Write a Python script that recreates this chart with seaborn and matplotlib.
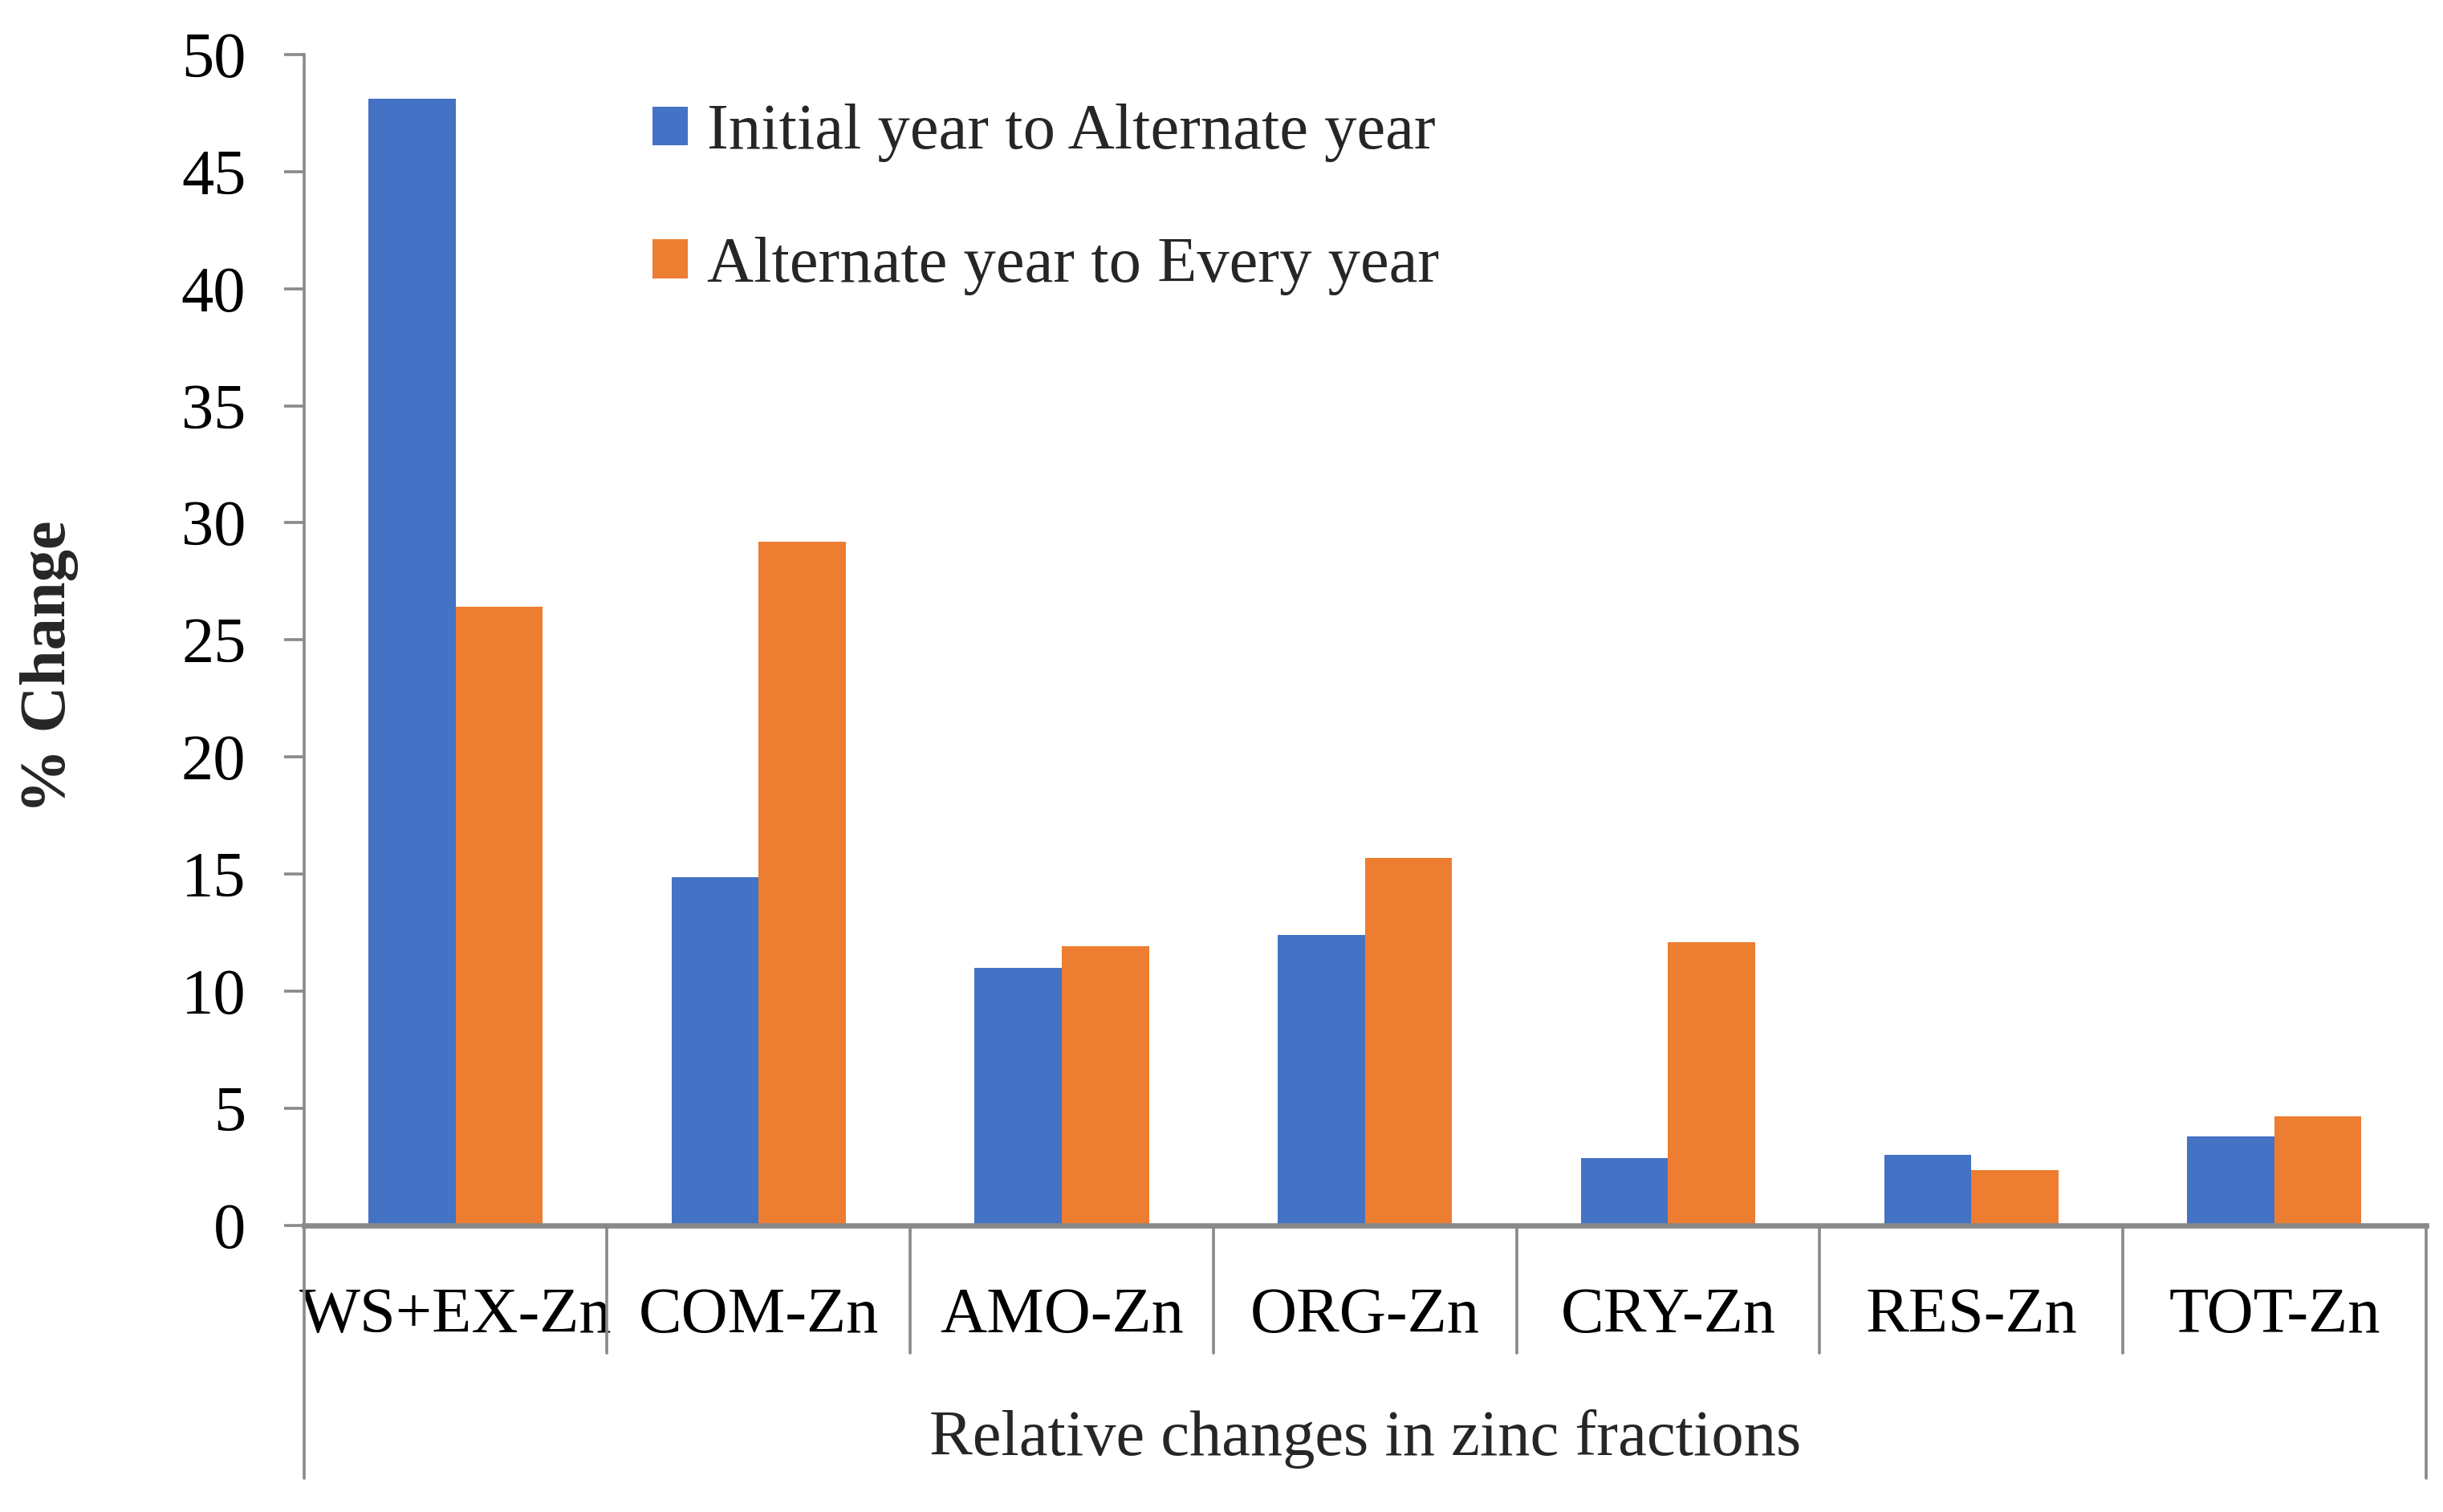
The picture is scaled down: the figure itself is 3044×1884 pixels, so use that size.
import pandas as pd
import seaborn as sns
import matplotlib.pyplot as plt

# Data
fractions = ['WS+EX-Zn', 'COM-Zn', 'AMO-Zn', 'ORG-Zn', 'CRY-Zn', 'RES-Zn', 'TOT-Zn']
initial_to_alternate = [48.1, 14.85, 11.0, 12.4, 2.85, 3.0, 3.8]
alternate_to_every = [26.4, 29.2, 11.9, 15.7, 12.1, 2.35, 4.65]
series_names = ['Initial year to Alternate year', 'Alternate year to Every year']

df = pd.DataFrame({
    'Fraction': fractions * 2,
    'Change': initial_to_alternate + alternate_to_every,
    'Period': [series_names[0]] * len(fractions) + [series_names[1]] * len(fractions),
})

sns.set_theme(style='white')
plt.rcParams['font.family'] = ['Liberation Serif', 'DejaVu Serif']

grey = '#898989'
fs = 29

fig = plt.figure(figsize=(15.22, 9.42), dpi=200)
ax = fig.add_axes([0.1244, 0.1897, 0.993 - 0.1244, 0.9639 - 0.1897])

sns.barplot(data=df, x='Fraction', y='Change', hue='Period',
            palette=['#4472C4', '#ED7D31'], width=0.575, gap=0,
            saturation=1, linewidth=0, ax=ax, errorbar=None)

ax.set_xlim(-0.5, len(fractions) - 0.5)
ax.set_ylim(0, 50)
ax.set_yticks(range(0, 51, 5))

# spines
for s in ['top', 'right']:
    ax.spines[s].set_visible(False)
ax.spines['left'].set_color(grey)
ax.spines['left'].set_linewidth(1.3)
ax.spines['bottom'].set_color(grey)
ax.spines['bottom'].set_linewidth(2.4)

ax.tick_params(axis='y', left=True, length=9, width=1.3, color=grey,
               pad=17, labelsize=fs, labelcolor='black')
ax.tick_params(axis='x', bottom=False, length=0, pad=28,
               labelsize=fs, labelcolor='black')

# multi-level category separators
tr = ax.get_xaxis_transform()
for i in range(1, len(fractions)):
    ax.plot([i - 0.5, i - 0.5], [0, -0.109], color=grey, lw=1.3,
            transform=tr, clip_on=False)
for xb in [-0.5, len(fractions) - 0.5]:
    ax.plot([xb, xb], [0, -0.216], color=grey, lw=1.3,
            transform=tr, clip_on=False)

ax.set_xlabel('Relative changes in zinc fractions', fontsize=fs)
ax.xaxis.set_label_coords(0.5, -0.208)
ax.xaxis.label.set_va('bottom')
ax.set_ylabel('% Change', fontsize=fs, fontweight='bold')
ax.yaxis.set_label_coords(-0.106, 0.477)

ax.legend(loc='upper left', bbox_to_anchor=(0.152, 0.98), frameon=False,
          fontsize=fs, handlelength=0.55, handleheight=0.55,
          handletextpad=0.3, labelspacing=1.15, borderaxespad=0)

fig.savefig('out.png', dpi=200, facecolor='white')
